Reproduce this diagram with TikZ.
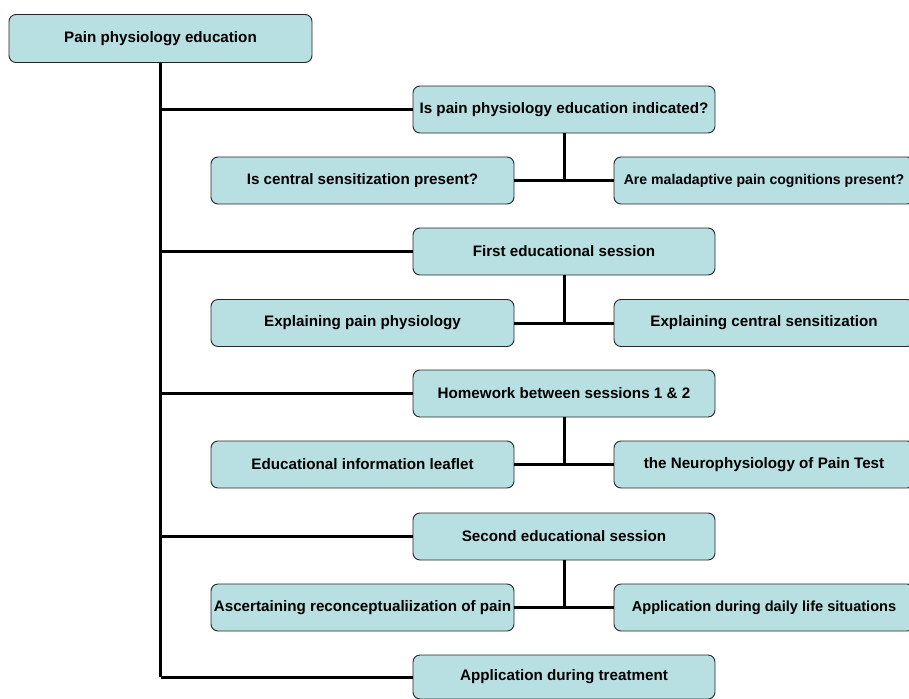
\documentclass[tikz,border=0pt]{standalone}
\usepackage{fontspec}
\setmainfont{Liberation Sans}
\definecolor{boxfill}{RGB}{184,223,225}
\begin{document}
\begin{tikzpicture}[x=1pt,y=-1pt,
  box/.style={draw=black!85, line width=0.9pt, fill=boxfill, rounded corners=7pt,
    font=\fontsize{15.2}{18}\selectfont\bfseries, inner sep=0pt, align=center},
  mid/.style={box, minimum width=302pt, minimum height=47pt},
  lft/.style={box, minimum width=303pt, minimum height=47pt},
  rgt/.style={box, minimum width=300pt, minimum height=47pt},
  conn/.style={line width=3pt}]
\useasboundingbox (0,0) rectangle (909,698);

\node[box, minimum width=303pt, minimum height=48pt] (top) at (160.5,38.5) {Pain physiology education};

\node[mid] (b1) at (564,109.5) {Is pain physiology education indicated?};
\node[lft] (l1) at (362.5,180.5) {Is central sensitization present?};
\node[rgt] (r1) at (764,180.5) {\fontsize{14.1}{17}\selectfont Are maladaptive pain cognitions present?};

\node[mid] (b2) at (564,251.5) {First educational session};
\node[lft] (l2) at (362.5,323) {Explaining pain physiology};
\node[rgt] (r2) at (764,323) {Explaining central sensitization};

\node[mid] (b3) at (564,393.5) {Homework between sessions 1 \& 2};
\node[lft] (l3) at (362.5,464.5) {Educational information leaflet};
\node[rgt] (r3) at (764,464.5) {the Neurophysiology of Pain Test};

\node[mid] (b4) at (564,536.5) {Second educational session};
\node[lft] (l4) at (362.5,607.5) {Ascertaining reconceptualiization of pain};
\node[rgt] (r4) at (764,607.5) {\fontsize{14.6}{17}\selectfont Application during daily life situations};

\node[mid, minimum height=44pt] (b5) at (564,677) {Application during treatment};

\draw[conn] (top.south) -- (top.south |- b5.west);
\foreach \i in {1,...,5} {
  \draw[conn] (top.south |- b\i.west) -- (b\i.west);
}
\foreach \i in {1,...,4} {
  \draw[conn] (b\i.south) -- (b\i.south |- l\i.east);
  \draw[conn] (l\i.east) -- (r\i.west);
}
\end{tikzpicture}
\end{document}
